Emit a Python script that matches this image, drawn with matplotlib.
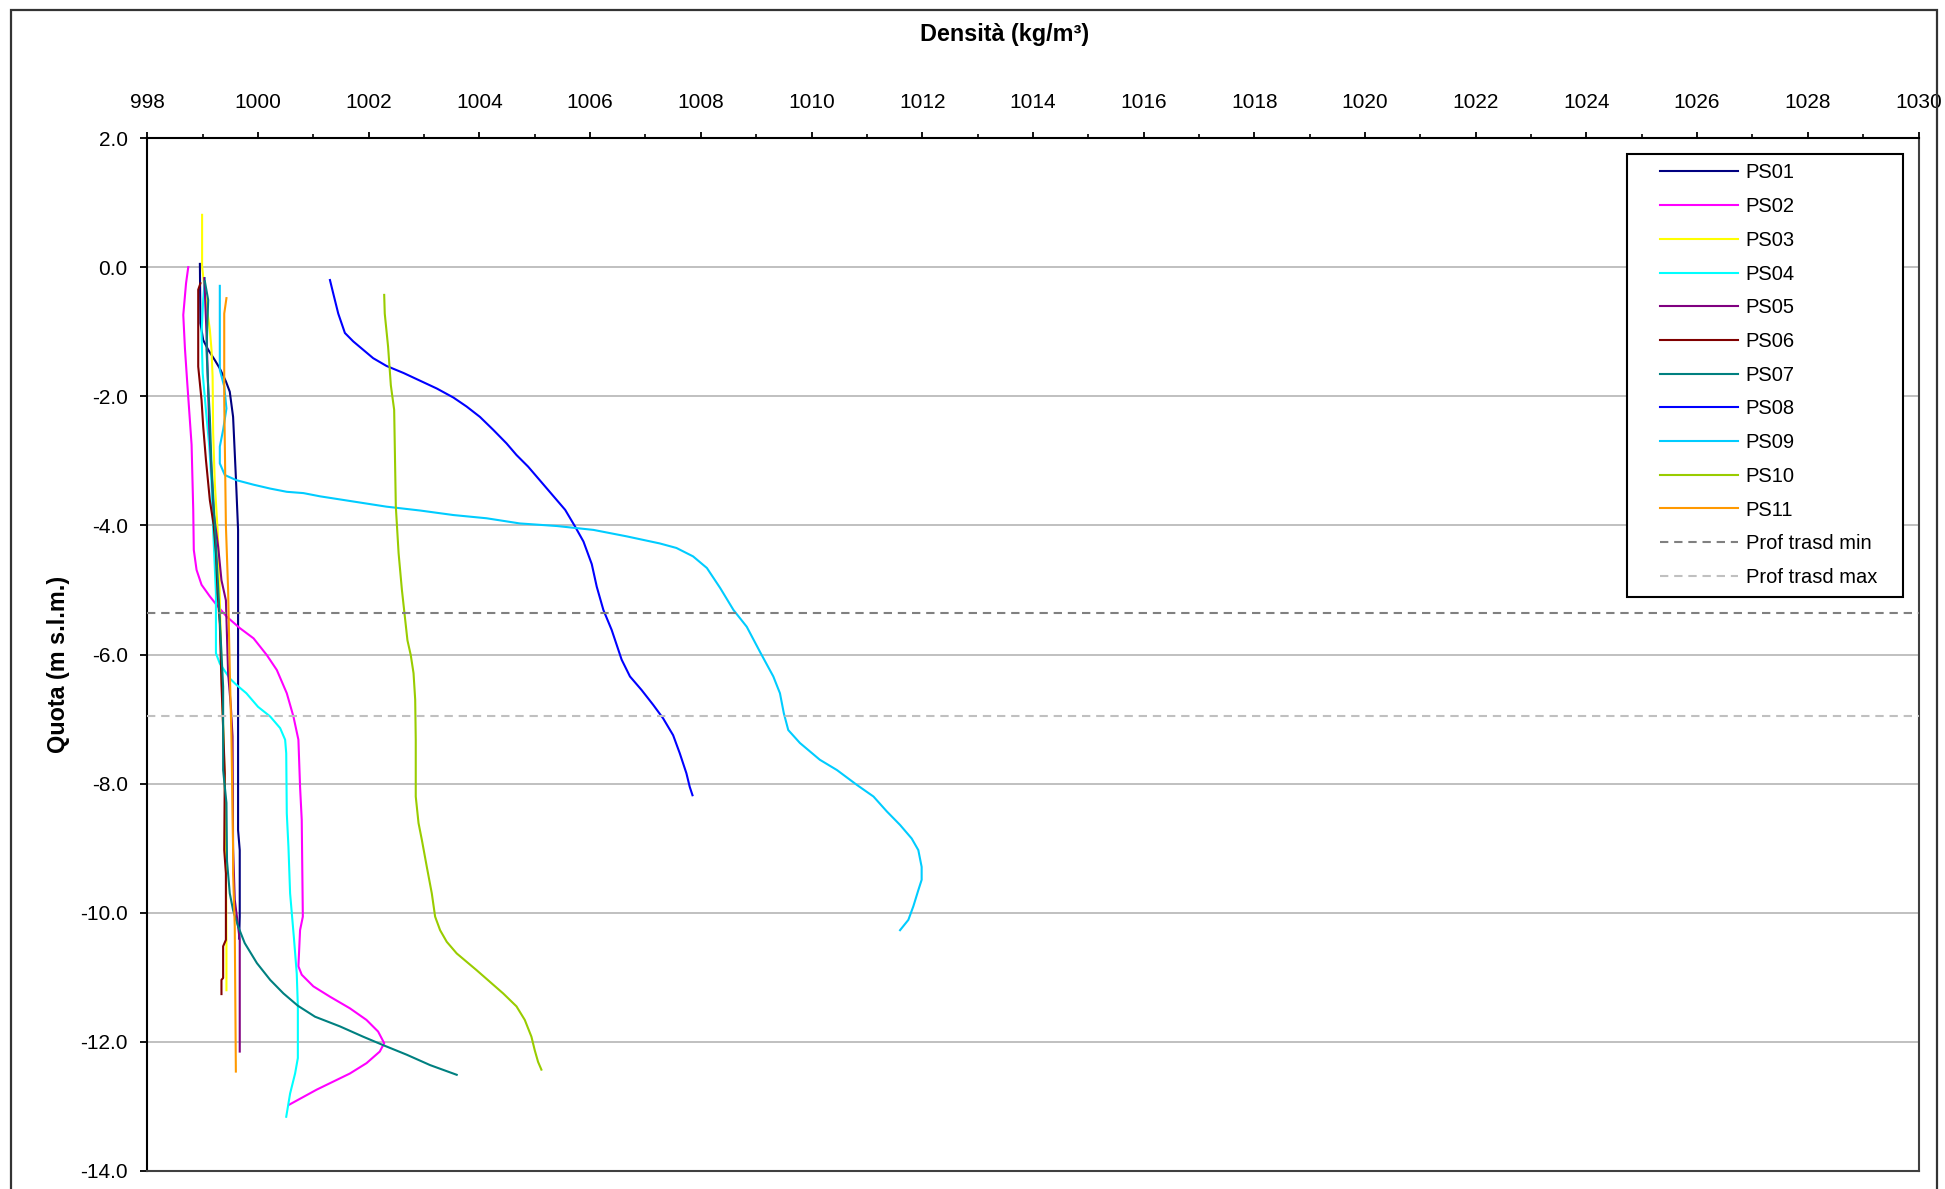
import matplotlib
matplotlib.use('Agg')
import matplotlib.pyplot as plt
from matplotlib.patches import Rectangle
from matplotlib.ticker import MultipleLocator, FormatStrFormatter

plt.rcParams['font.family'] = ['Liberation Sans', 'DejaVu Sans']
plt.rcParams['axes.unicode_minus'] = False

# Profili di densità (kg/m3) e quota (m s.l.m.)
ps01_x = [998.95, 998.96, 999.01, 999.10, 999.22, 999.31, 999.42, 999.49, 999.55, 999.60, 999.64, 999.64, 999.67, 999.67, 999.66]
ps01_y = [0.05, -0.87, -1.13, -1.28, -1.44, -1.57, -1.77, -1.93, -2.32, -3.25, -4.07, -8.72, -9.03, -10.06, -10.40]

ps02_x = [998.74, 998.70, 998.65, 998.68, 998.72, 998.76, 998.80, 998.83, 998.84, 998.89, 998.98, 999.13, 999.25, 999.43,
          999.67, 999.92, 1000.16, 1000.34, 1000.52, 1000.64, 1000.73, 1000.76, 1000.79, 1000.81, 1000.76, 1000.73,
          1000.79, 1001.00, 1001.30, 1001.66, 1001.96, 1002.17, 1002.28, 1002.20, 1001.96, 1001.66, 1001.30, 1001.06, 1000.57]
ps02_y = [0.0, -0.25, -0.74, -1.26, -1.77, -2.26, -2.75, -3.76, -4.38, -4.69, -4.92, -5.10, -5.23, -5.41,
          -5.59, -5.75, -6.01, -6.24, -6.60, -6.96, -7.32, -8.05, -8.56, -10.06, -10.27, -10.83,
          -10.96, -11.14, -11.30, -11.48, -11.66, -11.84, -12.02, -12.15, -12.33, -12.49, -12.64, -12.74, -12.97]

ps03_x = [998.99, 998.99, 999.03, 999.08, 999.13, 999.16, 999.18, 999.19, 999.22, 999.27, 999.30, 999.31, 999.35, 999.40, 999.42, 999.43, 999.43]
ps03_y = [0.81, 0.01, -0.30, -0.66, -0.97, -1.28, -1.70, -2.57, -3.35, -4.07, -4.69, -5.16, -6.50, -8.00, -9.00, -10.50, -11.20]

ps04_x = [999.04, 999.01, 998.98, 999.00, 999.07, 999.12, 999.16, 999.19, 999.24, 999.24, 999.31, 999.49, 999.61, 999.79,
          1000.00, 1000.22, 1000.40, 1000.49, 1000.51, 1000.52, 1000.55, 1000.58, 1000.65, 1000.70, 1000.72, 1000.72,
          1000.67, 1000.58, 1000.51]
ps04_y = [-0.17, -0.51, -1.02, -1.64, -2.32, -2.78, -3.35, -4.07, -5.05, -5.98, -6.14, -6.37, -6.47, -6.60,
          -6.81, -6.96, -7.14, -7.32, -7.53, -8.46, -8.98, -9.70, -10.40, -10.94, -11.45, -12.25,
          -12.49, -12.80, -13.16]

ps05_x = [999.03, 999.05, 999.07, 999.12, 999.20, 999.28, 999.34, 999.42, 999.46, 999.51, 999.54, 999.55, 999.58, 999.61, 999.67, 999.67]
ps05_y = [-0.17, -0.60, -1.03, -2.50, -3.81, -4.33, -4.85, -5.16, -6.29, -6.81, -7.27, -9.00, -9.80, -10.00, -10.42, -12.15]

ps06_x = [998.96, 998.92, 998.92, 998.98, 999.01, 999.06, 999.13, 999.20, 999.24, 999.27, 999.31, 999.34, 999.40, 999.39,
          999.42, 999.42, 999.37, 999.37, 999.34, 999.34]
ps06_y = [-0.25, -0.35, -1.54, -2.06, -2.47, -2.99, -3.61, -4.00, -4.43, -5.05, -5.52, -6.45, -7.84, -9.03,
          -9.39, -10.42, -10.52, -11.01, -11.04, -11.26]

ps07_x = [999.04, 999.10, 999.07, 999.10, 999.13, 999.16, 999.22, 999.28, 999.37, 999.37, 999.43, 999.44, 999.49, 999.55,
          999.64, 999.76, 999.98, 1000.22, 1000.46, 1000.72, 1001.03, 1001.48, 1001.90, 1002.26, 1002.69, 1003.11, 1003.59]
ps07_y = [-0.22, -0.51, -1.28, -1.85, -2.32, -3.09, -4.00, -4.95, -6.50, -7.79, -8.30, -9.20, -9.70, -9.96,
          -10.21, -10.47, -10.78, -11.04, -11.25, -11.44, -11.61, -11.76, -11.92, -12.05, -12.20, -12.36, -12.51]

ps08_x = [1001.30, 1001.36, 1001.45, 1001.57, 1001.72, 1001.90, 1002.08, 1002.32, 1002.63, 1002.93, 1003.23, 1003.53,
          1003.77, 1004.01, 1004.25, 1004.49, 1004.67, 1004.88, 1005.09, 1005.34, 1005.55, 1005.73, 1005.88, 1006.03,
          1006.12, 1006.24, 1006.39, 1006.57, 1006.72, 1006.93, 1007.14, 1007.32, 1007.50, 1007.62, 1007.74, 1007.80, 1007.85]
ps08_y = [-0.20, -0.41, -0.72, -1.02, -1.15, -1.28, -1.41, -1.53, -1.64, -1.76, -1.88, -2.02,
          -2.16, -2.32, -2.52, -2.73, -2.91, -3.09, -3.30, -3.55, -3.76, -4.02, -4.25, -4.60,
          -4.95, -5.31, -5.62, -6.08, -6.34, -6.55, -6.78, -6.99, -7.25, -7.53, -7.84, -8.05, -8.18]

ps09_x = [999.31, 999.31, 999.39, 999.43, 999.37, 999.31, 999.31, 999.40, 999.61, 999.92, 1000.22, 1000.52, 1000.82,
          1001.12, 1001.72, 1002.32, 1002.93, 1003.53, 1004.13, 1004.73, 1005.40, 1006.06, 1006.66, 1007.26, 1007.56,
          1007.86, 1008.11, 1008.35, 1008.59, 1008.83, 1009.07, 1009.31, 1009.43, 1009.50, 1009.58, 1009.79, 1010.15,
          1010.46, 1010.82, 1011.12, 1011.36, 1011.60, 1011.81, 1011.93, 1011.99, 1011.99, 1011.93, 1011.84, 1011.75, 1011.60]
ps09_y = [-0.29, -1.59, -1.85, -2.19, -2.52, -2.78, -3.04, -3.22, -3.30, -3.37, -3.43, -3.48, -3.50,
          -3.55, -3.63, -3.71, -3.77, -3.84, -3.89, -3.97, -4.01, -4.07, -4.17, -4.28, -4.35,
          -4.48, -4.66, -4.97, -5.31, -5.57, -5.96, -6.34, -6.60, -6.91, -7.17, -7.37, -7.63,
          -7.79, -8.02, -8.20, -8.43, -8.64, -8.85, -9.03, -9.29, -9.49, -9.65, -9.90, -10.11, -10.27]

ps10_x = [1002.28, 1002.29, 1002.35, 1002.40, 1002.46, 1002.49, 1002.54, 1002.60, 1002.70, 1002.76, 1002.81, 1002.84,
          1002.85, 1002.85, 1002.90, 1002.96, 1003.05, 1003.14, 1003.20, 1003.29, 1003.41, 1003.59, 1003.77, 1003.95,
          1004.19, 1004.43, 1004.67, 1004.82, 1004.94, 1005.00, 1005.06, 1005.12]
ps10_y = [-0.43, -0.72, -1.23, -1.83, -2.21, -3.71, -4.43, -5.00, -5.78, -6.01, -6.29, -6.70,
          -7.32, -8.20, -8.61, -8.87, -9.29, -9.70, -10.06, -10.27, -10.45, -10.63, -10.76, -10.89,
          -11.07, -11.25, -11.45, -11.66, -11.92, -12.13, -12.31, -12.43]

ps11_x = [999.43, 999.39, 999.39, 999.42, 999.46, 999.49, 999.52, 999.55, 999.55, 999.58, 999.60]
ps11_y = [-0.48, -0.72, -2.06, -4.00, -5.00, -6.24, -7.27, -9.03, -9.39, -10.21, -12.46]

# Profondità del trasduttore
trasd_x = [998, 1030]
trasd_min = -5.35
trasd_max = -6.96

series = [('PS01', ps01_x, ps01_y, '#000080'),
          ('PS02', ps02_x, ps02_y, '#FF00FF'),
          ('PS03', ps03_x, ps03_y, '#FFFF00'),
          ('PS04', ps04_x, ps04_y, '#00FFFF'),
          ('PS05', ps05_x, ps05_y, '#800080'),
          ('PS06', ps06_x, ps06_y, '#800000'),
          ('PS07', ps07_x, ps07_y, '#008080'),
          ('PS08', ps08_x, ps08_y, '#0000FF'),
          ('PS09', ps09_x, ps09_y, '#00CCFF'),
          ('PS10', ps10_x, ps10_y, '#99CC00'),
          ('PS11', ps11_x, ps11_y, '#FF9900')]

W, H = 1945, 1189
fig = plt.figure(figsize=(W / 100, H / 100), dpi=100)
ax = fig.add_axes([147.3 / W, 1 - 1171 / H, (1918.5 - 147.3) / W, (1171 - 138) / H])

handles = []
for name, xs, ys, col in series:
    l, = ax.plot(xs, ys, color=col, lw=1.5, label=name, zorder=3)
    handles.append(l)
l, = ax.plot(trasd_x, [trasd_min, trasd_min], color='#808080', lw=1.5, dashes=(4, 2.8), label='Prof trasd min', zorder=3)
handles.append(l)
l, = ax.plot(trasd_x, [trasd_max, trasd_max], color='#C0C0C0', lw=1.5, dashes=(4, 2.8), label='Prof trasd max', zorder=3)
handles.append(l)

ax.set_xlim(998, 1030)
ax.set_ylim(-14, 2)
ax.xaxis.tick_top()
ax.xaxis.set_major_locator(MultipleLocator(2))
ax.xaxis.set_minor_locator(MultipleLocator(1))
ax.yaxis.set_major_locator(MultipleLocator(2))
ax.yaxis.set_major_formatter(FormatStrFormatter('%.1f'))
ax.tick_params(axis='x', which='major', direction='out', length=4, width=1.3, pad=15, labelsize=15)
ax.tick_params(axis='x', which='minor', direction='out', length=3, width=1.2)
ax.tick_params(axis='y', which='major', direction='out', length=5, width=1.3, pad=9, labelsize=15)

# Griglia orizzontale
ax.yaxis.grid(True, color='#C0C0C0', lw=1.4, zorder=1)
ax.set_axisbelow(True)
for s in ['left', 'top']:
    ax.spines[s].set_color('black')
    ax.spines[s].set_linewidth(1.5)
for s in ['right', 'bottom']:
    ax.spines[s].set_color('#404040')
    ax.spines[s].set_linewidth(1.5)

fig.text(1005 / W, 1 - 34 / H, 'Densità (kg/m³)', ha='center', va='center', fontsize=16.8, fontweight='bold')
fig.text(58 / W, 1 - 664 / H, 'Quota (m s.l.m.)', ha='center', va='center', rotation=90, fontsize=16.8, fontweight='bold')

# Cornice della legenda e del grafico
fig.patches.append(Rectangle((1626.7 / W, 1 - 596.7 / H), 276.6 / W, 442.7 / H, transform=fig.transFigure,
                             facecolor='white', edgecolor='black', lw=1.5, zorder=1))
fig.patches.append(Rectangle((11 / W, -0.05), 1926 / W, 1.05 - 10 / H, transform=fig.transFigure,
                             facecolor='none', edgecolor='#333333', lw=1.6, zorder=1))

fig.legend(handles=handles, loc='upper left', bbox_to_anchor=(1660 / W, 1 - 163.5 / H), frameon=False,
           fontsize=14.5, handlelength=3.85, handletextpad=0.4, labelspacing=0.73, borderpad=0, borderaxespad=0)

fig.savefig('out.png', dpi=100)
